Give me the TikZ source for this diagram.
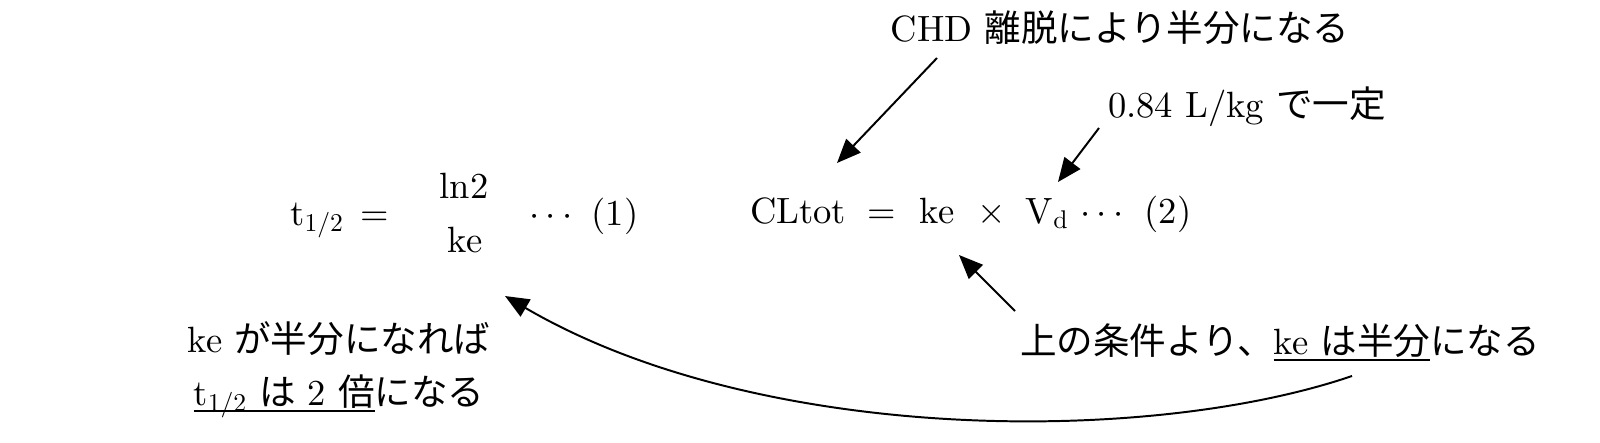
\RequirePackage{fix-cm}
\documentclass[tikz,border=0pt]{standalone}
\usepackage{fontspec}
\setmainfont{lmroman10-regular}[Extension=.otf]
\newfontfamily\jp{Noto Sans CJK JP}
\usepackage{tikz}
\usetikzlibrary{arrows.meta}
\usetikzlibrary{positioning}
\newcommand{\termfont}{\fontsize{26}{31}\selectfont}
\newcommand{\uln}[1]{\setbox0=\hbox{#1}\rlap{\rule[-5pt]{\wd0}{1.4pt}}\box0}
\tikzset{term/.style={inner sep=0pt,anchor=base,font=\termfont},
  arr/.style={-{Triangle[length=17pt,width=14pt]},line width=1.4pt},
}

\begin{document}
\begin{tikzpicture}[x=0.025cm,y=-0.025cm]
		\useasboundingbox (0,0) rectangle (1600,442);
		% formula (1)
		\node[term] (t1) at (317,225) {t\textsubscript{1/2}};
		\node[term] (eq1) at (375,225) {=};
		\node[term] (ln) at (464,198) {ln2};
		\node[term] (ke1) at (465,252) {ke};
		\node[term] (dots1) at (551,225) {$\cdots$};
		\node[term] (num1) at (615,225) {(1)};
		%% formula (2)
		\node[term] (cl) at (798,223) {CLtot};
		\node[term] (eq2) at (882,223) {=};
		\node[term] (ke2) at (937,223) {ke};
		\node[term] (times) at (992,223) {×};
		\node[term] (vd) at (1047,223) {V\textsubscript{d}};
		\node[term] (dots2) at (1102,223) {$\cdots$};
		\node[term] (num2) at (1168,223) {(2)};
		%% notes
		\node[term] (chd) at (1120,41) {CHD {\jp 離脱により半分になる}};
		\node[term] (vdnote) at (1247,117) {0.84 L/kg {\jp で一定}};
		\node[term] (kenote) at (339,352) {ke {\jp が半分になれば}};
		\node[term] (tnote) at (339,405) {\uln{t\textsubscript{1/2} {\jp は} 2 {\jp 倍}}{\jp になる}};
		\node[term] (halfnote) at (1280,354) {{\jp 上の条件より、}\uln{ke {\jp は半分}}{\jp になる}};
		
		\draw[arr] ([shift={(-183,17)}]chd.base) -- ([shift={(39,-60)}]cl.base);
		\draw[arr] ([shift={(-148,11)}]vdnote.base) -- ([shift={(11,-41)}]vd.base);
		\draw[arr] ([shift={(-265,-43)}]halfnote.base) -- ([shift={(22,32)}]ke2.base);
		\draw[arr] ([shift={(72,22)}]halfnote.base) .. controls +(-202,69) and +(255,149) .. ([shift={(40,44)}]ke1.base);
	\end{tikzpicture}
\end{document}
